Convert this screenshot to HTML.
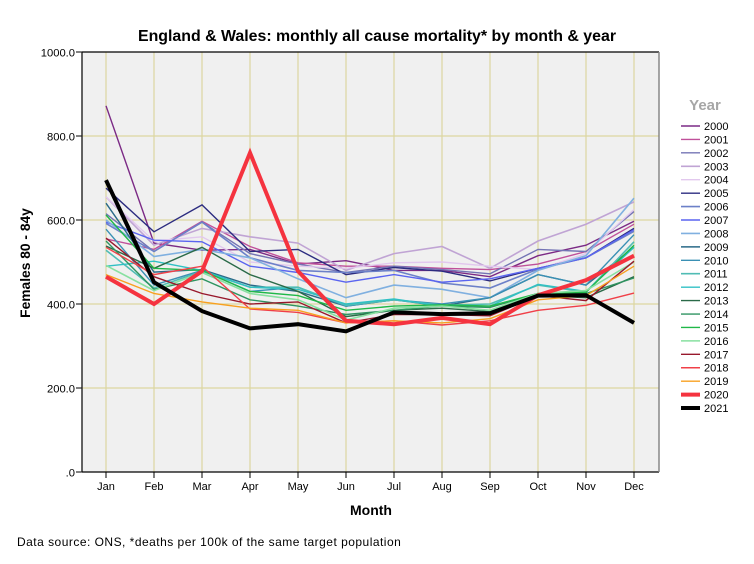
<!DOCTYPE html>
<html lang="en">
<head>
<meta charset="utf-8">
<title>England &amp; Wales monthly all cause mortality</title>
<style>
html,body{margin:0;padding:0;background:#fff;}
#chart{display:block;width:754px;height:564px;font-family:"Liberation Sans",Arial,sans-serif;}
</style>
</head>
<body>
<svg id="chart" xmlns="http://www.w3.org/2000/svg" width="754" height="564" viewBox="0 0 754 564">
  <rect x="0" y="0" width="754" height="564" fill="#ffffff"/>
  <text x="377" y="41" text-anchor="middle" font-size="15.9" font-weight="bold" fill="#000">England &amp; Wales: monthly all cause mortality* by month &amp; year</text>
  <text transform="translate(30,263) rotate(-90)" text-anchor="middle" font-size="13.8" font-weight="bold" fill="#000">Females 80 - 84y</text>
  <text x="371" y="515" text-anchor="middle" font-size="14" font-weight="bold" fill="#000">Month</text>
  <text x="17" y="546" font-size="12" letter-spacing="0.48" fill="#000">Data source: ONS, *deaths per 100k of the same target population</text>
  <text x="705" y="110" text-anchor="middle" font-size="15" font-weight="bold" fill="#a6a6a6">Year</text>
  <g id="plot"></g>
  <g id="legend"></g>
</svg>
<script>
var months = ["Jan","Feb","Mar","Apr","May","Jun","Jul","Aug","Sep","Oct","Nov","Dec"];
var yTicks = [0,200,400,600,800,1000];
var yTickLabels = [".0","200.0","400.0","600.0","800.0","1000.0"];
var years = ["2000","2001","2002","2003","2004","2005","2006","2007","2008","2009","2010","2011","2012","2013","2014","2015","2016","2017","2018","2019","2020","2021"];
var colors = ["#7b2a85","#c0509a","#7474b4","#c0a4d4","#e2c8ee","#2c2c80","#6c80c8","#5a64f0","#80b0e0","#2a6a88","#3a90b4","#50bcb4","#30c0c4","#2a6a48","#2e9460","#20b848","#88e0a0","#98182c","#f04048","#f8a020","#f5333f","#000000"];
var widths = [1.4,1.4,1.4,1.6,1.4,1.4,1.6,1.4,1.6,1.4,1.4,1.6,1.4,1.4,1.4,1.4,1.6,1.4,1.4,1.4,4,4];

var s2000 = [872,545,528,530,495,503,480,480,465,515,540,597];
var s2001 = [555,530,597,537,498,490,490,485,482,495,525,590];
var s2002 = [615,525,595,520,495,475,490,482,472,530,525,620];
var s2003 = [655,540,580,560,545,480,520,537,485,550,590,643];
var s2004 = [655,550,560,500,490,485,498,500,490,482,520,625];
var s2005 = [676,572,636,525,530,470,487,478,455,485,510,580];
var s2006 = [592,525,595,510,480,475,480,450,438,483,510,573];
var s2007 = [595,552,548,490,475,452,470,452,460,485,510,577];
var s2008 = [600,513,530,510,460,415,445,435,415,480,515,652];
var s2009 = [640,476,482,445,430,395,410,395,415,470,445,535];
var s2010 = [578,445,480,430,440,395,410,400,415,470,445,565];
var s2011 = [528,438,478,440,440,397,410,397,400,445,428,548];
var s2012 = [490,502,480,440,435,400,412,395,395,447,430,535];
var s2013 = [538,485,535,470,430,370,385,390,382,420,415,465];
var s2014 = [550,435,460,410,395,375,385,395,392,425,425,462];
var s2015 = [612,485,480,430,420,385,395,398,395,425,428,540];
var s2016 = [492,432,475,425,410,362,390,395,385,425,432,500];
var s2017 = [557,465,425,400,405,355,375,375,372,420,408,502];
var s2018 = [535,470,490,388,380,355,360,350,360,385,397,426];
var s2019 = [470,425,405,390,385,355,360,355,365,410,420,490];
var s2020 = [465,400,478,760,478,360,352,367,352,421,457,515];
var s2021 = [695,452,383,342,352,335,380,376,378,420,421,355];
var seriesValues = [s2000,s2001,s2002,s2003,s2004,s2005,s2006,s2007,s2008,s2009,s2010,s2011,s2012,s2013,s2014,s2015,s2016,s2017,s2018,s2019,s2020,s2021];

var NS = "http://www.w3.org/2000/svg";
var plot = document.getElementById("plot");
var legend = document.getElementById("legend");
var left = 82, right = 659, top_ = 52, bottom = 472;
function xScale(i){ return 106 + i * 48; }
function yScale(v){ return bottom - v * (bottom - top_) / 1000; }
function make(tag, attrs, parent){
  var el = document.createElementNS(NS, tag);
  for (var k in attrs) { el.setAttribute(k, attrs[k]); }
  parent.appendChild(el);
  return el;
}

var bg = make("rect", {x:left, y:top_, width:right-left, height:bottom-top_, fill:"#f0f0f0"}, plot);



yTicks.forEach(function(v, i){
  var y = yScale(v);
  if (v > 0 && v < 1000) {
    var g = make("line", {x1:left, x2:right, y1:y, y2:y, stroke:"#dcd6a0", "stroke-width":1.2}, plot);
    
    
  }
  var t = make("line", {x1:left-6, x2:left, y1:y, y2:y, stroke:"#000", "stroke-width":1}, plot);
  
  
  var l = make("text", {x:left-7, y:y+4.5, "text-anchor":"end", "font-size":"11.2", fill:"#000"}, plot);
  
  
  l.textContent = yTickLabels[i];
});

months.forEach(function(m, i){
  var x = xScale(i);
  var g = make("line", {x1:x, x2:x, y1:top_, y2:bottom, stroke:"#dcd6a0", "stroke-width":1.2}, plot);
  
  
  var t = make("line", {x1:x, x2:x, y1:bottom, y2:bottom+6, stroke:"#000", "stroke-width":1}, plot);
  
  
  var l = make("text", {x:x, y:490, "text-anchor":"middle", "font-size":"11", fill:"#000"}, plot);
  
  
  l.textContent = m;
});

seriesValues.forEach(function(vals, s){
  var pts = vals.map(function(v, i){ return xScale(i).toFixed(1) + "," + yScale(v).toFixed(1); }).join(" ");
  var line = make("polyline", {points:pts, fill:"none", stroke:colors[s], "stroke-width":widths[s], "stroke-linejoin":"miter"}, plot);
  
  

  var ly = 126 + s * 13.43;
  var sw = make("line", {x1:681, x2:700, y1:ly, y2:ly, stroke:colors[s], "stroke-width":widths[s]}, legend);
  
  
  var lab = make("text", {x:704, y:ly+4, "font-size":"11", fill:"#000"}, legend);
  
  
  lab.textContent = years[s];
});

var ax1 = make("line", {x1:left, x2:left, y1:top_, y2:bottom+0.5, stroke:"#222", "stroke-width":1.4}, plot);


var ax2 = make("line", {x1:left, x2:right, y1:bottom, y2:bottom, stroke:"#000", "stroke-width":1.2}, plot);


var ax3 = make("line", {x1:left, x2:right, y1:top_, y2:top_, stroke:"#000", "stroke-width":1.2}, plot);


var ax4 = make("line", {x1:right, x2:right, y1:top_, y2:bottom, stroke:"#808080", "stroke-width":1.4}, plot);


</script>
</body>
</html>
